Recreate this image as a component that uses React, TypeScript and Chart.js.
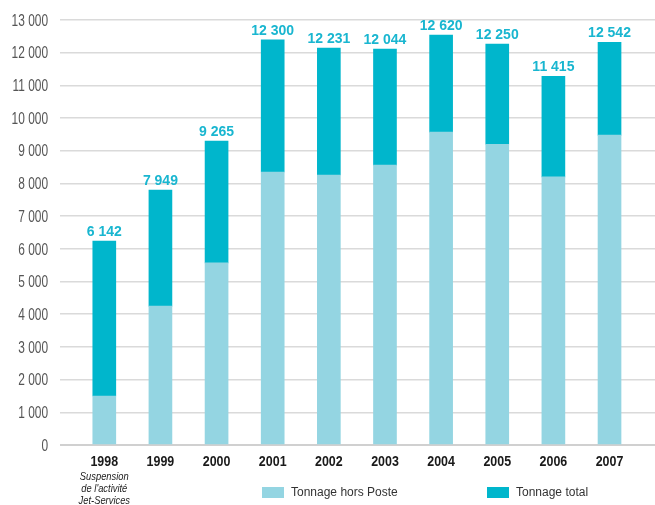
import { useEffect, useRef } from 'react';
import { Chart, registerables } from 'chart.js';

Chart.register(...registerables);

const categories = ['1998', '1999', '2000', '2001', '2002', '2003', '2004', '2005', '2006', '2007'];
// Lower segment: Tonnage hors Poste (as drawn)
const horsPoste = [1500, 4250, 5570, 8350, 8260, 8560, 9570, 9200, 8200, 9480];
// Top of each bar (Tonnage total, as drawn)
const barTops = [6240, 7800, 9300, 12390, 12140, 12110, 12540, 12260, 11280, 12320];
// Printed total labels
const totalLabels = [6142, 7949, 9265, 12300, 12231, 12044, 12620, 12250, 11415, 12542];
const noteLines = ['Suspension', "de l'activité", 'Jet-Services'];
const legendLabels = ['Tonnage hors Poste', 'Tonnage total'];

const LIGHT = '#94d5e2';
const TEAL = '#00b6cc';
const SANS = '"Liberation Sans", Arial, sans-serif';

const fmt = (v: number) => String(v).replace(/\B(?=(\d{3})+(?!\d))/g, ' ');

function squeezedText(ctx: any, text: string, x: number, y: number, sx: number, align: string) {
  ctx.save();
  ctx.translate(x, y);
  ctx.scale(sx, 1);
  ctx.textAlign = align;
  ctx.fillText(text, 0, 0);
  ctx.restore();
}

export default function App() {
  const ref = useRef<HTMLCanvasElement | null>(null);

  useEffect(() => {
    if (!ref.current) return;
    const upper = barTops.map((t, i) => t - horsPoste[i]);

    const overlay = {
      id: 'overlay',
      afterDraw(chart: any) {
        const { ctx, scales, chartArea } = chart;
        const xs = scales.x;
        const ys = scales.y;
        ctx.save();
        // y tick labels (condensed)
        ctx.font = `17px ${SANS}`;
        ctx.fillStyle = '#555';
        ctx.textBaseline = 'middle';
        ys.ticks.forEach((t: any) => {
          squeezedText(ctx, fmt(t.value), chartArea.left - 12, ys.getPixelForValue(t.value) + 1, 0.7, 'right');
        });
        // x tick labels (condensed bold)
        ctx.font = `bold 15px ${SANS}`;
        ctx.fillStyle = '#1a1a1a';
        ctx.textBaseline = 'middle';
        categories.forEach((c, i) => {
          squeezedText(ctx, c, xs.getPixelForValue(i), 462, 0.83, 'center');
        });
        // value labels
        ctx.font = `bold 14px ${SANS}`;
        ctx.fillStyle = '#19b6d0';
        ctx.textBaseline = 'alphabetic';
        totalLabels.forEach((v, i) => {
          const x = xs.getPixelForValue(i);
          const y = ys.getPixelForValue(barTops[i]);
          squeezedText(ctx, fmt(v), x, y - 5, 1, 'center');
        });
        // note under 1998
        ctx.font = `italic 11px ${SANS}`;
        ctx.fillStyle = '#222';
        ctx.textBaseline = 'middle';
        const nx = xs.getPixelForValue(0);
        noteLines.forEach((t, i) => {
          squeezedText(ctx, t, nx, 477 + i * 12, 0.85, 'center');
        });
        // legend
        ctx.font = `12px ${SANS}`;
        ctx.textAlign = 'left';
        ctx.textBaseline = 'middle';
        const items = [
          { x: 262, color: LIGHT },
          { x: 487, color: TEAL },
        ];
        items.forEach((it, i) => {
          ctx.fillStyle = it.color;
          ctx.fillRect(it.x, 487, 22, 11);
          ctx.fillStyle = '#333';
          ctx.fillText(legendLabels[i], it.x + 29, 493);
        });
        ctx.restore();
      },
    };

    const chart = new Chart(ref.current, {
      type: 'bar',
      data: {
        datasets: [
          {
            label: legendLabels[0],
            data: horsPoste.map((v, i) => ({ x: i, y: v })),
            backgroundColor: LIGHT,
            barThickness: 23,
          },
          {
            label: legendLabels[1],
            data: upper.map((v, i) => ({ x: i, y: v })),
            backgroundColor: TEAL,
            barThickness: 23,
          },
        ],
      },
      options: {
        animation: false,
        responsive: true,
        maintainAspectRatio: false,
        layout: { padding: { top: 20, left: 0, right: 0, bottom: 0 } },
        plugins: {
          legend: { display: false },
          tooltip: { enabled: false },
        },
        scales: {
          x: {
            type: 'linear',
            stacked: true,
            offset: false,
            min: -0.789,
            max: 9.81,
            grid: { display: false },
            border: { display: false },
            afterFit: (s: any) => {
              s.height = 60;
            },
            ticks: { display: false, stepSize: 1 },
          },
          y: {
            stacked: true,
            min: 0,
            max: 13000,
            grid: {
              color: (c: any) => (c.tick && c.tick.value === 0 ? '#d0d0d0' : '#dadada'),
              lineWidth: (c: any) => (c.tick && c.tick.value === 0 ? 2 : 1.5),
              drawTicks: false,
            },
            border: { display: false },
            afterFit: (s: any) => {
              s.width = 60;
            },
            ticks: { display: false, stepSize: 1000 },
          },
        },
      } as any,
      plugins: [overlay],
    });
    return () => chart.destroy();
  }, []);

  return (
    <div style={{ position: 'fixed', left: 0, top: 0, width: 655, height: 505, background: '#fff' }}>
      <canvas ref={ref} />
    </div>
  );
}
